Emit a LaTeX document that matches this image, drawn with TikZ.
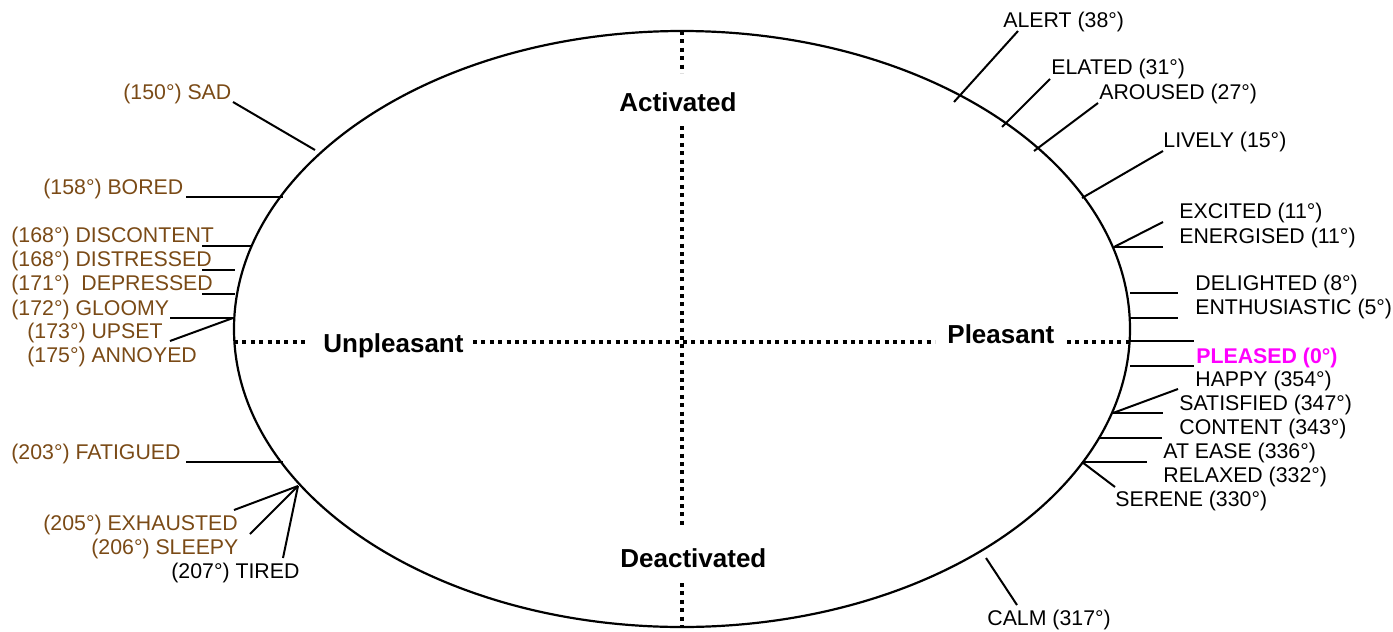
\documentclass[tikz,border=0pt]{standalone}
\usepackage{fontspec}
\setmainfont{Liberation Sans}
\definecolor{moodbrown}{RGB}{122,74,22}
\definecolor{moodpink}{RGB}{255,0,255}
\newcommand\moodfont{\fontsize{10.65}{12}\selectfont}
\newcommand\axisfont{\fontsize{13}{15}\selectfont\bfseries}
\tikzset{
  lbl/.style={font=\moodfont, inner sep=0pt, anchor=base west},
  neg/.style={lbl, text=moodbrown},
  axislbl/.style={font=\axisfont, inner sep=0pt, anchor=base west},
  tickline/.style={line width=1pt},
  axisline/.style={line width=2pt, line cap=butt, dash pattern=on 2pt off 2.2pt},
}
\begin{document}
\begin{tikzpicture}[x=0.5pt, y=-0.5pt]
\useasboundingbox (0,0) rectangle (1393,632);

% circumplex outline
\draw[line width=1.1pt] (682,329) ellipse [x radius=224pt, y radius=149pt];

% axis labels
\node[axislbl] (act)   at (619,111)  {Activated};
\node[axislbl] (deact) at (620,567)  {Deactivated};
\node[axislbl] (unpl)  at (323,352)  {Unpleasant};
\node[axislbl] (pleas) at (947,343)  {Pleasant};

% dotted axes
\coordinate (vtop) at (682,31);   \coordinate (vtopb) at (682,73);
\coordinate (vmida) at (682,126); \coordinate (vmidb) at (682,528);
\coordinate (vbota) at (682,583); \coordinate (vbot) at (682,627);
\coordinate (hleft) at (234,342); \coordinate (hlefta) at (305,342);
\coordinate (hmida) at (473,342); \coordinate (hmidb) at (935,342);
\coordinate (hrighta) at (1067,342); \coordinate (hright) at (1130,342);
\draw[axisline] (vtop) -- (vtopb);
\draw[axisline] (vmida) -- (vmidb);
\draw[axisline] (vbota) -- (vbot);
\draw[axisline] (hleft) -- (hlefta);
\draw[axisline] (hmida) -- (hmidb);
\draw[axisline] (hrighta) -- (hright);

% unpleasant side
\node[neg] (sad)   at (123,99)  {(150°) SAD};
\node[neg] (bored) at (43,194)  {(158°) BORED};
\node[neg] (disc)  at (11,242)  {(168°) DISCONTENT};
\node[neg] (dist)  at (11,266)  {(168°) DISTRESSED};
\node[neg] (depr)  at (11,290)  {(171°)\ \ DEPRESSED};
\node[neg] (gloom) at (11,315)  {(172°) GLOOMY};
\node[neg] (upset) at (27,338)  {(173°) UPSET};
\node[neg] (annoy) at (27,362)  {(175°) ANNOYED};
\node[neg] (fatig) at (11,459)  {(203°) FATIGUED};
\node[neg] (exh)   at (43,530)  {(205°) EXHAUSTED};
\node[neg] (sleep) at (91,554)  {(206°) SLEEPY};
\node[lbl] (tired) at (171,578) {(207°) TIRED};

\coordinate (sad-o) at (233,102);   \coordinate (sad-e) at (315,150);
\coordinate (bored-o) at (186,197); \coordinate (bored-e) at (283,197);
\coordinate (disc-o) at (202,246);  \coordinate (disc-e) at (252,246);
\coordinate (dist-o) at (202,270);  \coordinate (dist-e) at (235,270);
\coordinate (depr-o) at (202,294);  \coordinate (depr-e) at (235,294);
\coordinate (gloom-o) at (170,318); \coordinate (gloom-e) at (233,318);
\coordinate (upset-o) at (170,341);
\coordinate (fatig-o) at (186,462); \coordinate (fatig-e) at (283,462);
\coordinate (exh-o) at (234,510);   \coordinate (tired-e) at (298,486);
\coordinate (sleep-o) at (250,534);
\coordinate (tired-o) at (283,558);
\draw[tickline] (sad-o) -- (sad-e);
\draw[tickline] (bored-o) -- (bored-e);
\draw[tickline] (disc-o) -- (disc-e);
\draw[tickline] (dist-o) -- (dist-e);
\draw[tickline] (depr-o) -- (depr-e);
\draw[tickline] (gloom-o) -- (gloom-e);
\draw[tickline] (upset-o) -- (gloom-e);
\draw[tickline] (fatig-o) -- (fatig-e);
\draw[tickline] (exh-o) -- (tired-e);
\draw[tickline] (sleep-o) -- (tired-e);
\draw[tickline] (tired-o) -- (tired-e);

% pleasant side
\node[lbl] (alert)  at (1003,27)  {ALERT (38°)};
\node[lbl] (elated) at (1051,74)  {ELATED (31°)};
\node[lbl] (arous)  at (1099,99)  {AROUSED (27°)};
\node[lbl] (lively) at (1163,147) {LIVELY (15°)};
\node[lbl] (excit)  at (1179,218) {EXCITED (11°)};
\node[lbl] (energ)  at (1179,243) {ENERGISED (11°)};
\node[lbl] (delig)  at (1195,290) {DELIGHTED (8°)};
\node[lbl] (enthu)  at (1195,314) {ENTHUSIASTIC (5°)};
\node[lbl, text=moodpink, font=\moodfont\bfseries] (pleased) at (1196,363) {PLEASED (0°)};
\node[lbl] (happy)  at (1195,386) {HAPPY (354°)};
\node[lbl] (satis)  at (1179,410) {SATISFIED (347°)};
\node[lbl] (conte)  at (1179,434) {CONTENT (343°)};
\node[lbl] (atease) at (1163,458) {AT EASE (336°)};
\node[lbl] (relax)  at (1163,482) {RELAXED (332°)};
\node[lbl] (seren)  at (1115,506) {SERENE (330°)};
\node[lbl] (calm)   at (987,625)  {CALM (317°)};

\coordinate (alert-o) at (1018,31);  \coordinate (alert-e) at (954,102);
\coordinate (elated-o) at (1050,79); \coordinate (elated-e) at (1002,127);
\coordinate (arous-o) at (1098,103); \coordinate (arous-e) at (1034,151);
\coordinate (lively-o) at (1163,151);\coordinate (lively-e) at (1082,198);
\coordinate (excit-o) at (1163,222); \coordinate (energ-e) at (1114,247);
\coordinate (energ-o) at (1163,247);
\coordinate (delig-e) at (1130,293); \coordinate (delig-o) at (1178,293);
\coordinate (enthu-e) at (1130,318); \coordinate (enthu-o) at (1178,318);
\coordinate (pla-e) at (1130,341);   \coordinate (pla-o) at (1194,341);
\coordinate (plb-e) at (1130,366);   \coordinate (plb-o) at (1194,366);
\coordinate (satis-o) at (1178,389); \coordinate (satis-e) at (1113,413);
\coordinate (conte-o) at (1163,413);
\coordinate (atease-e) at (1098,438);\coordinate (atease-o) at (1162,438);
\coordinate (relax-e) at (1082,462); \coordinate (relax-o) at (1147,462);
\coordinate (seren-o) at (1115,487);
\coordinate (calm-e) at (986,558);   \coordinate (calm-o) at (1017,605);
\draw[tickline] (alert-o) -- (alert-e);
\draw[tickline] (elated-o) -- (elated-e);
\draw[tickline] (arous-o) -- (arous-e);
\draw[tickline] (lively-o) -- (lively-e);
\draw[tickline] (excit-o) -- (energ-e);
\draw[tickline] (energ-o) -- (energ-e);
\draw[tickline] (delig-e) -- (delig-o);
\draw[tickline] (enthu-e) -- (enthu-o);
\draw[tickline] (pla-e) -- (pla-o);
\draw[tickline] (plb-e) -- (plb-o);
\draw[tickline] (satis-o) -- (satis-e);
\draw[tickline] (satis-e) -- (conte-o);
\draw[tickline] (atease-e) -- (atease-o);
\draw[tickline] (relax-e) -- (relax-o);
\draw[tickline] (relax-e) -- (seren-o);
\draw[tickline] (calm-e) -- (calm-o);
\end{tikzpicture}
\end{document}
